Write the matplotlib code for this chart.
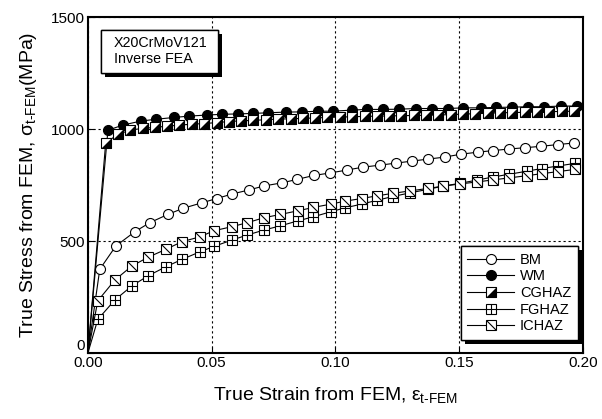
import matplotlib
matplotlib.use("Agg")
import matplotlib.pyplot as plt
import matplotlib.patheffects as pe
from matplotlib.path import Path
from matplotlib.patches import Rectangle

plt.rcParams["font.family"] = ["Liberation Sans", "DejaVu Sans"]
plt.rcParams["mathtext.fontset"] = "custom"
plt.rcParams["mathtext.rm"] = "Liberation Sans"
plt.rcParams["mathtext.it"] = "Liberation Sans"
plt.rcParams["mathtext.bf"] = "Liberation Sans:bold"

# values (strain, stress in MPa)
bm_strain = [0.0, 0.0048, 0.0113, 0.0190, 0.0250, 0.0323, 0.0384, 0.0461, 0.0521, 0.0582,
             0.0650, 0.0711, 0.0784, 0.0844, 0.0913, 0.0978, 0.1046, 0.1111, 0.1180,
             0.1244, 0.1309, 0.1374, 0.1442, 0.1507, 0.1576, 0.1636, 0.1701, 0.1766,
             0.1830, 0.1899, 0.1964]
bm_stress = [0, 374, 478, 542, 582, 619, 646, 671, 690, 710, 728, 746, 760, 775, 793, 804,
             817, 830, 839, 848, 857, 866, 875, 888, 897, 904, 911, 917, 923, 931, 938]

wm_strain = [0.0, 0.0081, 0.0141, 0.0214, 0.0275, 0.0347, 0.0408, 0.0481, 0.0541, 0.0606,
             0.0667, 0.0727, 0.0800, 0.0865, 0.0929, 0.0990, 0.1067, 0.1127, 0.1192,
             0.1257, 0.1325, 0.1390, 0.1455, 0.1515, 0.1588, 0.1648, 0.1713, 0.1778,
             0.1842, 0.1911, 0.1976]
wm_stress = [0, 995, 1018, 1036, 1044, 1052, 1058, 1063, 1066, 1068, 1070, 1073, 1076, 1077,
             1080, 1080, 1085, 1088, 1088, 1089, 1092, 1092, 1092, 1095, 1095, 1097, 1098,
             1100, 1100, 1103, 1103]

cg_strain = [0.0, 0.0072, 0.0121, 0.0171, 0.0221, 0.0271, 0.0320, 0.0370, 0.0420, 0.0470,
             0.0520, 0.0570, 0.0619, 0.0669, 0.0719, 0.0769, 0.0819, 0.0869, 0.0918,
             0.0968, 0.1018, 0.1068, 0.1118, 0.1168, 0.1217, 0.1267, 0.1317, 0.1367,
             0.1417, 0.1467, 0.1516, 0.1566, 0.1616, 0.1666, 0.1716, 0.1766, 0.1815,
             0.1865, 0.1915, 0.1965]
cg_stress = [0, 939, 976, 996, 1003, 1008, 1013, 1018, 1022, 1025, 1029, 1034, 1037, 1039,
             1042, 1045, 1046, 1048, 1050, 1052, 1054, 1055, 1057, 1058, 1059, 1060, 1061,
             1062, 1063, 1065, 1067, 1069, 1071, 1073, 1074, 1075, 1076, 1078, 1079, 1080]

haz_strain = [0.0, 0.0040, 0.0109, 0.0177, 0.0242, 0.0315, 0.0380, 0.0453, 0.0509, 0.0581,
              0.0644, 0.0711, 0.0778, 0.0848, 0.0910, 0.0982, 0.1038, 0.1106, 0.1168,
              0.1232, 0.1301, 0.1374, 0.1434, 0.1503, 0.1572, 0.1636, 0.1701, 0.1774,
              0.1834, 0.1899, 0.1968]
fg_stress = [0, 150, 237, 299, 344, 385, 418, 452, 476, 504, 527, 549, 568, 590, 608, 631,
             648, 665, 682, 699, 715, 731, 745, 758, 772, 786, 798, 812, 824, 835, 847]
ic_stress = [0, 233, 326, 388, 427, 463, 497, 519, 546, 564, 582, 604, 619, 635, 650, 665,
             678, 690, 702, 713, 724, 735, 745, 755, 764, 773, 782, 792, 801, 810, 820]

x_ticks = [0.0, 0.05, 0.10, 0.15, 0.20]
y_ticks = [0, 500, 1000, 1500]

MS = 6.6
tri_marker = [(-1, -1), (1, -1), (1, 1)]
slash_marker = Path([(-1, 1), (1, -1)], [Path.MOVETO, Path.LINETO])

fig = plt.figure(figsize=(6.02, 4.19), dpi=100)
ax = fig.add_axes([0.146, 0.1575, 0.822, 0.8015])

line_kw = dict(color="black", linewidth=0.8, markeredgecolor="black", markeredgewidth=0.8)

# the origin point is part of each line but carries no marker
bm, = ax.plot(bm_strain, bm_stress, marker="o", markersize=7.2, markerfacecolor="white",
              markevery=slice(1, None), **line_kw)
wm, = ax.plot(wm_strain, wm_stress, marker="o", markersize=7.2, markerfacecolor="black",
              markevery=slice(1, None), **line_kw)

cg_a, = ax.plot(cg_strain, cg_stress, marker="s", markersize=MS, markerfacecolor="white",
                markevery=slice(1, None), **line_kw)
cg_b, = ax.plot(cg_strain[1:], cg_stress[1:], linestyle="none", marker=tri_marker,
                markersize=MS, markerfacecolor="black", markeredgecolor="black",
                markeredgewidth=0.5)

fg_a, = ax.plot(haz_strain, fg_stress, marker="s", markersize=MS, markerfacecolor="white",
                markevery=slice(1, None), **line_kw)
fg_b, = ax.plot(haz_strain[1:], fg_stress[1:], linestyle="none", marker="+",
                markersize=MS, markeredgecolor="black", markeredgewidth=0.8)

ic_a, = ax.plot(haz_strain, ic_stress, marker="s", markersize=MS, markerfacecolor="white",
                markevery=slice(1, None), **line_kw)
ic_b, = ax.plot(haz_strain[1:], ic_stress[1:], linestyle="none", marker=slash_marker,
                markersize=MS, markerfacecolor="none", markeredgecolor="black",
                markeredgewidth=0.8)

ax.set_xlim(0, 0.2)
ax.set_ylim(0, 1500)
ax.set_xticks(x_ticks)
ax.set_xticklabels([f"{v:.2f}" for v in x_ticks])
ax.set_yticks(y_ticks)
ax.tick_params(direction="in", length=4, width=0.8, labelsize=11, pad=2)
# the "0" on the y axis sits a little above its tick, as in the reference
ax.get_yticklabels()[0].set_verticalalignment("bottom")
ax.grid(True, color="black", linestyle=(0, (2, 2.5)), linewidth=0.8)
for s in ax.spines.values():
    s.set_linewidth(1.5)

ax.set_xlabel(r"True Strain from FEM, $\varepsilon_{\text{t-FEM}}$", fontsize=14, labelpad=11)
ax.set_ylabel(r"True Stress from FEM, $\sigma_{\text{t-FEM}}$(MPa)", fontsize=14, labelpad=9)

shadow = [pe.withSimplePatchShadow(offset=(3, -3), shadow_rgbFace="black", alpha=1.0),
          pe.Normal()]

box = Rectangle((0.0263, 0.8333), 0.2363, 0.128, transform=ax.transAxes,
                facecolor="white", edgecolor="black", linewidth=1.0, zorder=5)
box.set_path_effects(shadow)
ax.add_patch(box)
ax.text(0.0525, 0.9003, "X20CrMoV121\nInverse FEA", transform=ax.transAxes,
        fontsize=10.3, ha="left", va="center", linespacing=1.2, zorder=6)

leg = ax.legend([bm, wm, (cg_a, cg_b), (fg_a, fg_b), (ic_a, ic_b)],
                ["BM", "WM", "CGHAZ", "FGHAZ", "ICHAZ"],
                loc="lower right", bbox_to_anchor=(0.99, 0.039), borderaxespad=0,
                fontsize=10.5, numpoints=1, handlelength=3.2, handletextpad=0.4,
                labelspacing=0.18, borderpad=0.45, fancybox=False, framealpha=1,
                edgecolor="black")
leg.get_frame().set_linewidth(1.0)
leg.get_frame().set_path_effects(shadow)

fig.savefig("out.png", dpi=100)
